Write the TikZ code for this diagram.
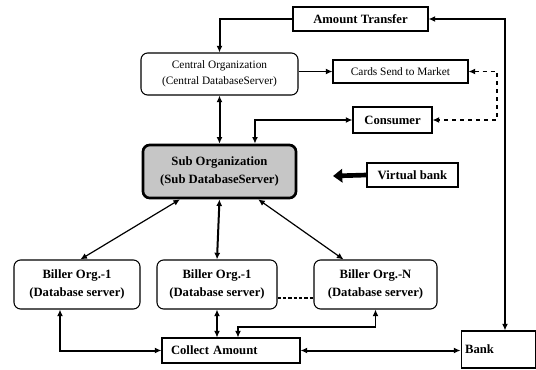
\documentclass[tikz,border=0pt]{standalone}
\usepackage{fontspec}
\setmainfont{Liberation Serif}
\usetikzlibrary{arrows.meta}

\begin{document}
\begin{tikzpicture}[x=0.75pt,y=-0.75pt,>={Latex[length=5pt,width=4.5pt]}]
    \tikzstyle{block} = [draw,fill=white,line width=0.8pt,align=center,inner sep=2pt,font=\bfseries\fontsize{9.5}{14}\selectfont]
    \tikzstyle{server} = [block,rounded corners=5pt]
    \tikzstyle{plain} = [font=\fontsize{8.5}{12}\selectfont]
    \tikzstyle{link} = [line width=1.5pt]
    \tikzstyle{thinlink} = [line width=0.9pt]
    \useasboundingbox (0,0) rectangle (536,369);
        \node[block,minimum width=101.25pt,minimum height=18pt] (trans) at (360.5,19) {Amount Transfer};
        \node[server,plain,minimum width=117.75pt,minimum height=31.5pt] (central) at (219.5,74) {Central Organization\\(Central DatabaseServer)};
        \node[block,plain,minimum width=101.25pt,minimum height=17.25pt] (cards) at (400.5,71.5) {Cards Send to Market};
        \node[block,minimum width=59.25pt,minimum height=19.5pt] (consumer) at (392.5,120) {Consumer};
        \node[server,fill=gray!45,line width=2pt,minimum width=114.75pt,minimum height=39.75pt] (sub) at (219.5,171.5) {Sub Organization\\(Sub DatabaseServer)};
        \node[block,minimum width=68.25pt,minimum height=18pt] (vbank) at (412.5,175) {Virtual bank};
        \node[server,minimum width=94.5pt,minimum height=36.75pt] (b1) at (77,284.5) {Biller Org.-1\\(Database server)};
        \node[server,minimum width=90pt,minimum height=36.75pt] (b2) at (217,284.5) {Biller Org.-1\\(Database server)};
        \node[server,minimum width=92.25pt,minimum height=36.75pt] (bN) at (375.5,284.5) {Biller Org.-N\\(Database server)};
        \node[block,align=left,text width=90pt,inner xsep=6.75pt,minimum height=18.75pt] (collect) at (231,350.5) {Collect Amount};
        \node[block,align=left,text width=50pt,inner xsep=3.1pt,minimum height=27.75pt] (bank) at (498.5,349.5) {Bank};
        \coordinate (rt) at (505,19);
        \coordinate (dr) at (497,71.5);
        \coordinate (vb) at (333,176);
        \coordinate (cm) at (238,327);
        \draw[link,->] (trans.west) -| (central.north);
        \draw[link,<->] (trans.east) -- (rt) -- (rt |- bank.north);
        \draw[thinlink,->] (central.east |- cards.west) -- (cards.west);
        \draw[thinlink,dashed,<->] (cards.east) -- (dr) |- (consumer.east);
        \draw[link,<->] (central.south) -- (sub.north);
        \draw[link,<->] ([xshift=26.6pt]sub.north) |- (consumer.west);
        \draw[line width=3.5pt,-{Triangle[length=7pt,width=10pt]}] (vbank.west) -- (vb);
        \draw[thinlink,<->] ([xshift=-29.6pt]sub.south) -- ([xshift=2.5pt]b1.north);
        \draw[link,<->] (sub.south) -- (b2.north);
        \draw[thinlink,<->] ([xshift=29pt]sub.south) -- ([xshift=-24pt]bN.north);
        \draw[link,dash pattern=on 2.5pt off 1.5pt] ([yshift=-10pt]b2.east) -- ([yshift=-10pt]bN.west);
        \draw[link,<->] ([xshift=-12.75pt]b1.south) |- (collect.west);
        \draw[thinlink,<->] (b2.south) -- (b2.south |- collect.north);
        \draw[thinlink,<->] (bN.south) |- (cm) -- (cm |- collect.north);
        \draw[link,<->] (collect.east) -- (collect.east -| bank.west);
    \end{tikzpicture}
\end{document}
